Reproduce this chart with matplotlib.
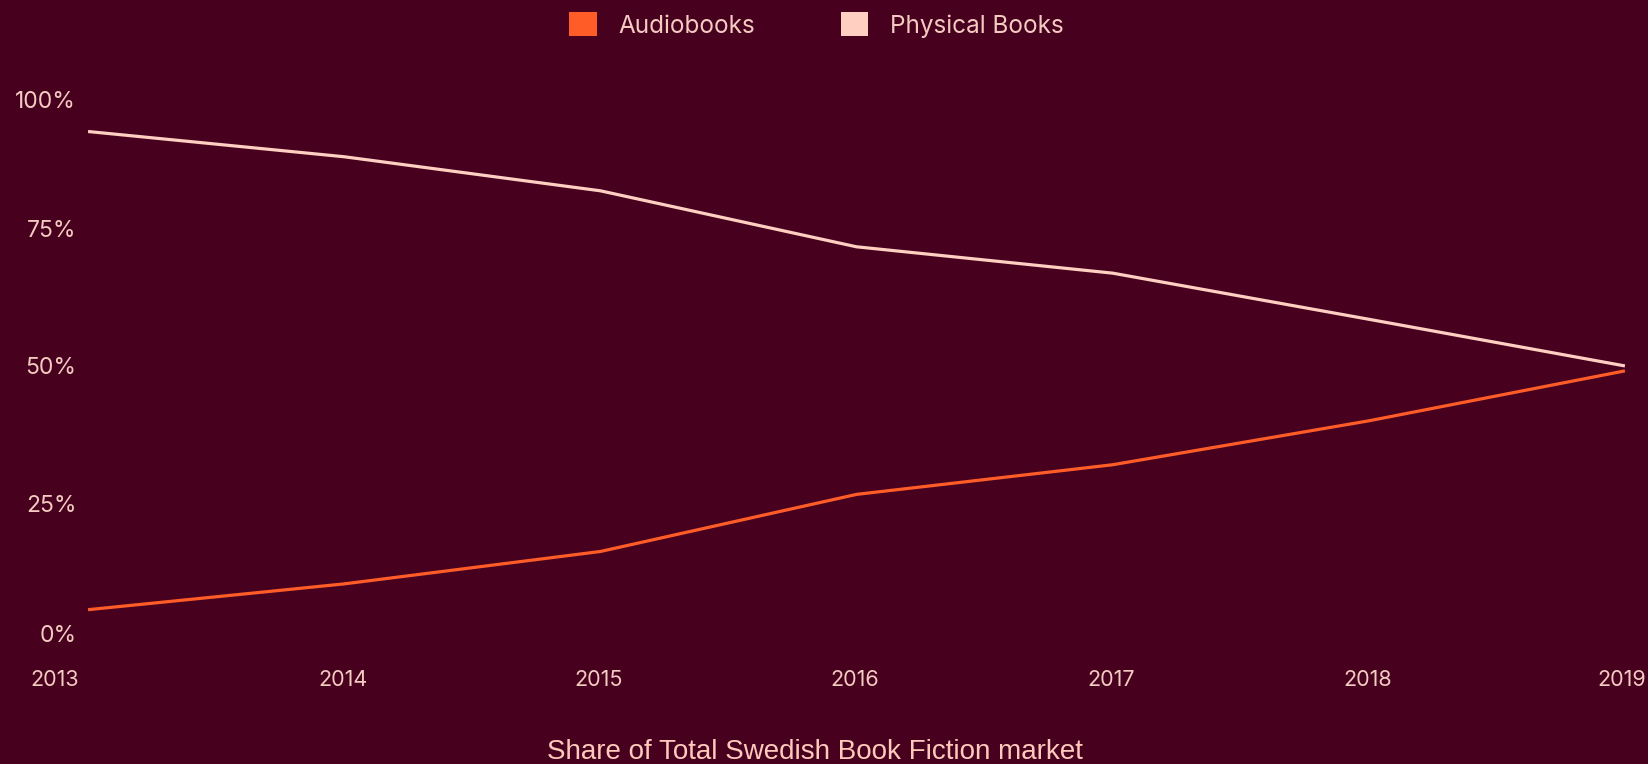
"""Audiobooks vs physical books, share of the Swedish fiction market."""

import matplotlib

matplotlib.use("Agg")
import matplotlib.pyplot as plt
from matplotlib.patches import Patch

years = [2013, 2014, 2015, 2016, 2017, 2018, 2019]
audiobooks = [5.8, 10.5, 16.4, 26.8, 32.2, 40.2, 49.3]
physical = [92.9, 88.3, 82.1, 71.9, 67.1, 58.7, 50.2]
y_ticks = [0, 25, 50, 75, 100]

BG = "#48001f"
ORANGE = "#ff5c28"
PINK = "#ffcfc2"
TEXT = "#f3cbc0"

plt.rcParams["font.family"] = ["Inter", "DejaVu Sans"]

fig = plt.figure(figsize=(16.49, 7.64), dpi=100, facecolor=BG)
ax = fig.add_axes([0.0534, 0.1603, 0.932, 0.7186], facecolor=BG)

ax.plot(years, physical, color=PINK, lw=2.3, clip_on=False, solid_capstyle="butt")
ax.plot(years, audiobooks, color=ORANGE, lw=2.3, clip_on=False, solid_capstyle="butt")

ax.set_xlim(years[0], years[-1])
ax.set_ylim(0, 100)
ax.set_xticks([])
ax.set_yticks([])
for side in ax.spines.values():
    side.set_visible(False)

# y labels; the outer two are nudged inward
for v in y_ticks:
    dy = -7 if v == 100 else (4 if v == 0 else -1)
    ax.annotate(f"{v}%", xy=(0, v), xycoords=("axes fraction", "data"),
                xytext=(-8.5, dy), textcoords="offset points",
                ha="right", va="center", fontsize=16.5, color=TEXT)

# x labels; the first is shifted left of its point
for yr in years:
    dx = -24 if yr == years[0] else (-2 if yr == years[-1] else -1)
    ax.annotate(str(yr), xy=(yr, 0), xycoords=("data", "axes fraction"),
                xytext=(dx, -27.5), textcoords="offset points",
                ha="center", va="center", fontsize=15.5, color=TEXT)

fig.text(814.5 / 1649, 1 - 752 / 764, "Share of Total Swedish Book Fiction market",
         ha="center", va="center", fontsize=20, color="#ffc9bb",
         family=["Liberation Sans", "DejaVu Sans"])

handles = [Patch(facecolor=ORANGE, edgecolor="none", label="Audiobooks"),
           Patch(facecolor=PINK, edgecolor="none", label="Physical Books")]
fig.legend(handles=handles, loc="center", bbox_to_anchor=(816.5 / 1649, 1 - 25 / 764),
           ncol=2, frameon=False, fontsize=17.5, labelcolor=TEXT,
           handlelength=1.15, handleheight=1.15, handletextpad=0.9,
           columnspacing=3.5)

fig.savefig("out.png", dpi=100, facecolor=BG)
